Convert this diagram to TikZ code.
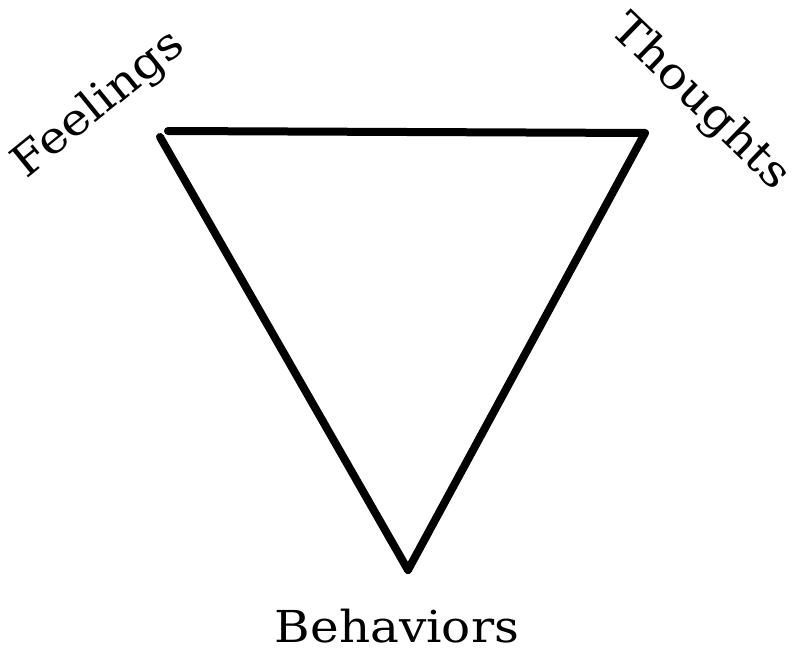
\documentclass[tikz,border=0pt]{standalone}
\usepackage{fontspec}
\setmainfont{DejaVu Serif}
\newfontfamily\lblfont[FakeStretch=1.1]{DejaVu Serif}
\begin{document}
\begin{tikzpicture}[x=1pt,y=-1pt,
  edge/.style={line width=8pt,line cap=round,line join=round},
  lbl/.style={font=\lblfont\fontsize{44}{44}\selectfont,inner sep=0pt}]
\useasboundingbox (0,0) rectangle (795,655);
\coordinate (F) at (160,137);
\coordinate (T) at (645,133);
\coordinate (TL) at (168,131);
\coordinate (B) at (408,570);
\draw[edge] (TL) -- (T) -- (B);
\draw[edge] (F) -- (B);
\node[lbl,rotate=39] (feel) at (99,105) {Feelings};
\node[lbl,rotate=-44] (thou) at (700,103) {Thoughts};
\node[lbl,anchor=base] (beh) at (397,642) {Behaviors};
\end{tikzpicture}
\end{document}
